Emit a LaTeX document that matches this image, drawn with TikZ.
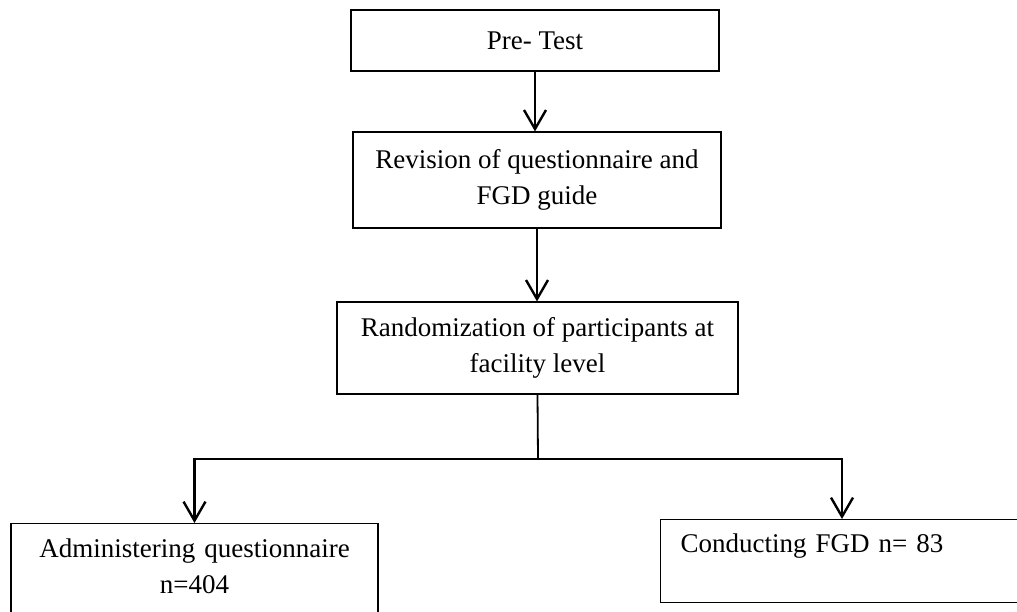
\documentclass[tikz,border=0pt]{standalone}
\usepackage{fontspec}
\setmainfont{Liberation Serif}
\usetikzlibrary{arrows.meta}

\begin{document}
\begin{tikzpicture}[x=1pt,y=-1pt]
\tikzstyle{box}=[rectangle,align=center,draw,line width=1.2pt,inner sep=0pt,font=\fontsize{27}{36}\selectfont]
\tikzstyle{flow}=[line width=2.4pt,-{Straight Barb[length=19pt,width=22pt,line width=2.4pt]}]
\useasboundingbox (0, 0) rectangle (1017, 612);
\clip (0, 0) rectangle (1017, 612);
\node[box,minimum width=368,minimum height=61] at(535, 40.5) (pre) {Pre- Test};
\node[box,minimum width=368,minimum height=96] at(537, 180) (rev) {Revision of questionnaire and\\
                         FGD guide};
\node[box,minimum width=401,minimum height=92] at(537.5, 348) (rand) {Randomization of participants at\\
                         facility level};
\node[box,anchor=north,text width=367,text height=34,text depth=100] at(194.5, 523) (adm) {Administering questionnaire\\
                         n=404};
\node[box,anchor=north west,align=left,text width=380,inner xsep=20,text height=33,text depth=50] at(660, 519) (fgd) {Conducting FGD n= 83};
\coordinate (split) at (538, 459);
\coordinate (rgt) at (842, 459);
\draw[flow] (pre.south) -- (pre.south |- rev.north);
\draw[flow] (rev.south) -- (rev.south |- rand.north);
\draw[line width=1.8pt] (rand.south) -- (split);
\draw[flow] (split) -| (adm.north);
\draw[flow] (split) -| (rgt |- fgd.north);
\end{tikzpicture}
\end{document}
